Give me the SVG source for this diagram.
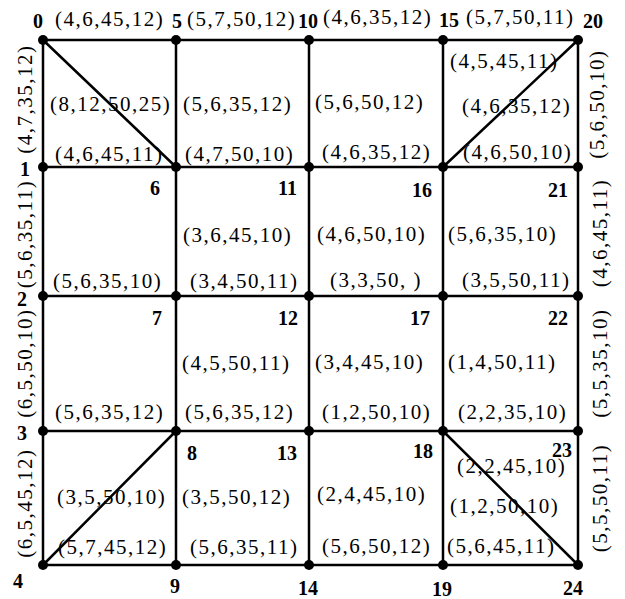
<svg xmlns="http://www.w3.org/2000/svg" width="625" height="599" viewBox="0 0 625 599">
<style>
.e{stroke:#000;stroke-width:2.5;stroke-linecap:round;fill:none}
.d{fill:#000}
.nl{font-family:"Liberation Serif","Times New Roman",serif;font-weight:bold;font-size:20px;fill:#000}
.t{font-family:"Liberation Serif","Times New Roman",serif;font-size:21px;letter-spacing:1.5px;fill:#000}
</style>
<rect width="625" height="599" fill="#fff"/>
<g id="connectors">
<line class="e" x1="43" y1="40" x2="578" y2="40"/>
<line class="e" x1="43" y1="167" x2="578" y2="167"/>
<line class="e" x1="43" y1="296" x2="578" y2="296"/>
<line class="e" x1="43" y1="431" x2="578" y2="431"/>
<line class="e" x1="43" y1="565" x2="578" y2="565"/>
<line class="e" x1="43" y1="40" x2="43" y2="565"/>
<line class="e" x1="176" y1="40" x2="176" y2="565"/>
<line class="e" x1="309" y1="40" x2="309" y2="565"/>
<line class="e" x1="443" y1="40" x2="443" y2="565"/>
<line class="e" x1="578" y1="40" x2="578" y2="565"/>
<line class="e" x1="43" y1="40" x2="176" y2="167"/>
<line class="e" x1="443" y1="167" x2="578" y2="40"/>
<line class="e" x1="43" y1="565" x2="176" y2="431"/>
<line class="e" x1="443" y1="431" x2="578" y2="565"/>
</g>
<g id="n0"><circle class="d" cx="43" cy="40" r="5"/><text class="nl" x="33" y="28">0</text></g>
<g id="n1"><circle class="d" cx="43" cy="167" r="5"/><text class="nl" x="20" y="176">1</text></g>
<g id="n2"><circle class="d" cx="43" cy="296" r="5"/><text class="nl" x="17" y="306">2</text></g>
<g id="n3"><circle class="d" cx="43" cy="431" r="5"/><text class="nl" x="17" y="440">3</text></g>
<g id="n4"><circle class="d" cx="43" cy="565" r="5"/><text class="nl" x="13" y="588">4</text></g>
<g id="n5"><circle class="d" cx="176" cy="40" r="5"/><text class="nl" x="172" y="28">5</text></g>
<g id="n6"><circle class="d" cx="176" cy="167" r="5"/><text class="nl" x="150" y="195">6</text></g>
<g id="n7"><circle class="d" cx="176" cy="296" r="5"/><text class="nl" x="152" y="325">7</text></g>
<g id="n8"><circle class="d" cx="176" cy="431" r="5"/><text class="nl" x="187" y="460">8</text></g>
<g id="n9"><circle class="d" cx="176" cy="565" r="5"/><text class="nl" x="170" y="593">9</text></g>
<g id="n10"><circle class="d" cx="309" cy="40" r="5"/><text class="nl" x="298" y="28">10</text></g>
<g id="n11"><circle class="d" cx="309" cy="167" r="5"/><text class="nl" x="278" y="195">11</text></g>
<g id="n12"><circle class="d" cx="309" cy="296" r="5"/><text class="nl" x="278" y="325">12</text></g>
<g id="n13"><circle class="d" cx="309" cy="431" r="5"/><text class="nl" x="277" y="460">13</text></g>
<g id="n14"><circle class="d" cx="309" cy="565" r="5"/><text class="nl" x="298" y="595">14</text></g>
<g id="n15"><circle class="d" cx="443" cy="40" r="5"/><text class="nl" x="439" y="27">15</text></g>
<g id="n16"><circle class="d" cx="443" cy="167" r="5"/><text class="nl" x="412" y="197">16</text></g>
<g id="n17"><circle class="d" cx="443" cy="296" r="5"/><text class="nl" x="410" y="325">17</text></g>
<g id="n18"><circle class="d" cx="443" cy="431" r="5"/><text class="nl" x="413" y="458">18</text></g>
<g id="n19"><circle class="d" cx="443" cy="565" r="5"/><text class="nl" x="432" y="596">19</text></g>
<g id="n20"><circle class="d" cx="578" cy="40" r="5"/><text class="nl" x="583" y="28">20</text></g>
<g id="n21"><circle class="d" cx="578" cy="167" r="5"/><text class="nl" x="548" y="197">21</text></g>
<g id="n22"><circle class="d" cx="578" cy="296" r="5"/><text class="nl" x="548" y="325">22</text></g>
<g id="n23"><circle class="d" cx="578" cy="431" r="5"/><text class="nl" x="552" y="457">23</text></g>
<g id="n24"><circle class="d" cx="578" cy="565" r="5"/><text class="nl" x="563" y="595">24</text></g>
<g id="labels">
<text class="t" x="55" y="26">(4,6,45,12)</text>
<text class="t" x="187" y="26">(5,7,50,12)</text>
<text class="t" x="323" y="24">(4,6,35,12)</text>
<text class="t" x="466" y="24">(5,7,50,11)</text>
<text class="t" text-anchor="middle" transform="translate(32,99) rotate(-90)">(4,7,35,12)</text>
<text class="t" text-anchor="middle" transform="translate(32,234) rotate(-90)">(5,6,35,11)</text>
<text class="t" text-anchor="middle" transform="translate(32,363) rotate(-90)">(6,5,50,10)</text>
<text class="t" text-anchor="middle" transform="translate(32,503) rotate(-90)">(6,5,45,12)</text>
<text class="t" text-anchor="middle" transform="translate(604,104) rotate(-90)">(5,6,50,10)</text>
<text class="t" text-anchor="middle" transform="translate(607,233) rotate(-90)">(4,6,45,11)</text>
<text class="t" text-anchor="middle" transform="translate(607,363) rotate(-90)">(5,5,35,10)</text>
<text class="t" text-anchor="middle" transform="translate(607,498) rotate(-90)">(5,5,50,11)</text>
<text class="t" x="50" y="111">(8,12,50,25)</text>
<text class="t" x="55" y="161">(4,6,45,11)</text>
<text class="t" x="183" y="111">(5,6,35,12)</text>
<text class="t" x="185" y="161">(4,7,50,10)</text>
<text class="t" x="315" y="109">(5,6,50,12)</text>
<text class="t" x="322" y="159">(4,6,35,12)</text>
<text class="t" x="450" y="68">(4,5,45,11)</text>
<text class="t" x="462" y="113">(4,6,35,12)</text>
<text class="t" x="463" y="159">(4,6,50,10)</text>
<text class="t" x="53" y="288">(5,6,35,10)</text>
<text class="t" x="183" y="242">(3,6,45,10)</text>
<text class="t" x="190" y="288">(3,4,50,11)</text>
<text class="t" x="317" y="241">(4,6,50,10)</text>
<text class="t" x="330" y="287">(3,3,50, )</text>
<text class="t" x="448" y="241">(5,6,35,10)</text>
<text class="t" x="462" y="287">(3,5,50,11)</text>
<text class="t" x="55" y="419">(5,6,35,12)</text>
<text class="t" x="182" y="370">(4,5,50,11)</text>
<text class="t" x="185" y="419">(5,6,35,12)</text>
<text class="t" x="315" y="369">(3,4,45,10)</text>
<text class="t" x="322" y="419">(1,2,50,10)</text>
<text class="t" x="448" y="369">(1,4,50,11)</text>
<text class="t" x="458" y="419">(2,2,35,10)</text>
<text class="t" x="57" y="504">(3,5,50,10)</text>
<text class="t" x="58" y="554">(5,7,45,12)</text>
<text class="t" x="182" y="504">(3,5,50,12)</text>
<text class="t" x="190" y="554">(5,6,35,11)</text>
<text class="t" x="317" y="501">(2,4,45,10)</text>
<text class="t" x="322" y="553">(5,6,50,12)</text>
<text class="t" x="457" y="473">(2,2,45,10)</text>
<text class="t" x="450" y="513">(1,2,50,10)</text>
<text class="t" x="447" y="553">(5,6,45,11)</text>
</g>
</svg>
